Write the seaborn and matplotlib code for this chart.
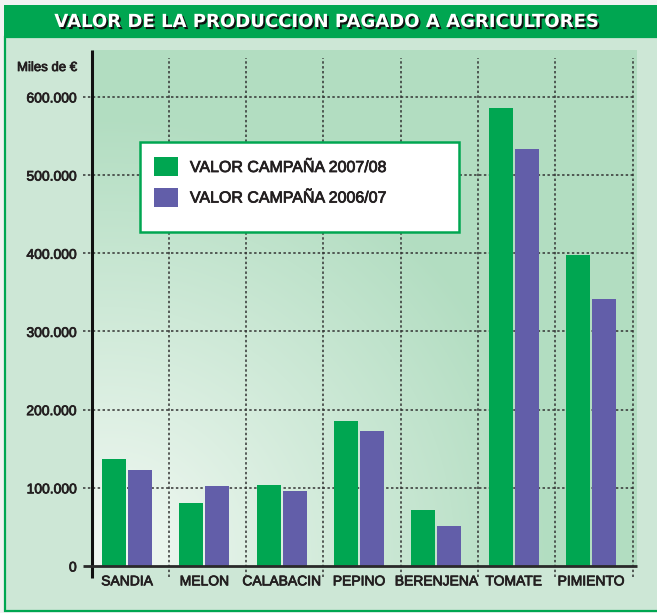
import numpy as np
import pandas as pd
import matplotlib
matplotlib.use("Agg")
import matplotlib.pyplot as plt
import matplotlib.patches as mpatches
import matplotlib.patheffects as pe
import seaborn as sns

# datos (miles de euros)
cultivos = ["SANDIA", "MELON", "CALABACIN", "PEPINO", "BERENJENA", "TOMATE", "PIMIENTO"]
campana_0708 = [137000, 81000, 104000, 186000, 71000, 586000, 398000]
campana_0607 = [123000, 102000, 96000, 173000, 51000, 533000, 342000]
series = ["VALOR CAMPAÑA 2007/08", "VALOR CAMPAÑA 2006/07"]
y_ticks = [0, 100000, 200000, 300000, 400000, 500000, 600000]
y_labels = ["0", "100.000", "200.000", "300.000", "400.000", "500.000", "600.000"]

VERDE = "#00a651"
MORADO = "#625ea9"
TEXTO = "#231f20"

plt.rcParams["font.family"] = ["Liberation Sans", "DejaVu Sans"]

# trazo fino para imitar la letra semi-negrita del original
medio = [pe.withStroke(linewidth=0.55, foreground=TEXTO)]

df = pd.DataFrame({
    "cultivo": cultivos * 2,
    "valor": campana_0708 + campana_0607,
    "serie": [series[0]] * len(cultivos) + [series[1]] * len(cultivos),
})

W, H = 657, 613
fig = plt.figure(figsize=(W / 100, H / 100), dpi=100)
fig.patch.set_facecolor("#f1f2f2")

# fondo: banda del titulo y panel verde claro
bg = fig.add_axes([0, 0, 1, 1])
bg.set_xlim(0, W)
bg.set_ylim(H, 0)
bg.axis("off")
bg.add_patch(mpatches.Rectangle((5, 37), 660, 574, facecolor="#cde7d6",
                                edgecolor=VERDE, linewidth=1.6))
bg.add_patch(mpatches.Rectangle((4, 5), 660, 33, facecolor=VERDE, edgecolor="none"))

fig.text(325 / W, 1 - 22 / H, "VALOR DE LA PRODUCCION PAGADO A AGRICULTORES",
         ha="center", va="center", color="white", fontsize=13, fontweight="bold",
         family="DejaVu Sans",
         path_effects=[pe.withSimplePatchShadow(offset=(1.3, -1.5),
                                                shadow_rgbFace="#111111", alpha=1.0)])
fig.text(17 / W, 1 - 68 / H, "Miles de €", ha="left", va="center",
         fontsize=9.5, color=TEXTO, path_effects=medio)

# area del grafico
x0, x1, y0, y1 = 92, 637, 50, 566
ax = fig.add_axes([x0 / W, 1 - y1 / H, (x1 - x0) / W, (y1 - y0) / H])

# degradado radial del fondo del grafico
gh, gw = y1 - y0, x1 - x0
yy, xx = np.mgrid[0:gh, 0:gw]
d = np.hypot(xx - 18, yy - 505) / 440.0
t = np.clip(d, 0, 1)[..., None]
c_in = np.array([0.95, 0.975, 0.955])
c_out = np.array([0xb2, 0xdd, 0xc1]) / 255.0
grad = c_in * (1 - t) + c_out * t
ax.imshow(grad, extent=(0, 1, 0, 1), transform=ax.transAxes, aspect="auto",
          zorder=0, interpolation="bilinear")

sns.barplot(data=df, x="cultivo", y="valor", hue="serie", hue_order=series,
            palette=[VERDE, MORADO], saturation=1, width=0.672, gap=0.08,
            linewidth=0, legend=False, ax=ax, zorder=3)

ax.set_xlim(-0.453, 6.595)
ax.set_ylim(0, 660000)
for s in ax.spines.values():
    s.set_visible(False)
ax.set_xlabel("")
ax.set_ylabel("")

ax.set_yticks(y_ticks)
ax.set_yticklabels(y_labels)
ax.tick_params(axis="y", length=0, pad=11, labelsize=10, labelcolor=TEXTO)
ax.tick_params(axis="x", length=0, pad=6, labelsize=10, labelcolor=TEXTO)
for lab in ax.get_xticklabels() + ax.get_yticklabels():
    lab.set_path_effects(medio)

# rejilla punteada
dots = (0, (1.6, 1.6))
ax.hlines(y_ticks[1:], -0.0165, 0.993, transform=ax.get_yaxis_transform(),
          colors="#333333", linestyles=dots, linewidth=1.1, clip_on=False, zorder=2)
ax.vlines([i + 0.54 for i in range(len(cultivos))], -0.021, 0.984,
          transform=ax.get_xaxis_transform(), colors="#333333", linestyles=dots,
          linewidth=1.1, clip_on=False, zorder=2)

# ejes
ax.plot([0, 0], [-0.023, 1.0], transform=ax.transAxes, color="#111111",
        linewidth=2.2, clip_on=False, zorder=5, solid_capstyle="butt")
ax.plot([-0.0165, 1.0], [0, 0], transform=ax.transAxes, color="#2a2a2a",
        linewidth=2.0, clip_on=False, zorder=5, solid_capstyle="butt")

# leyenda
ax.add_patch(mpatches.Rectangle((140 / W, 1 - 232 / H), 319 / W, 90 / H,
                                transform=fig.transFigure, facecolor="white",
                                edgecolor=VERDE, linewidth=1.8, zorder=6, clip_on=False))
handles = [mpatches.Patch(facecolor=c, edgecolor="none") for c in (VERDE, MORADO)]
leg = ax.legend(handles, series, loc="upper left",
                bbox_to_anchor=(154 / W, 1 - 157 / H), bbox_transform=fig.transFigure,
                frameon=False, borderpad=0, borderaxespad=0, handlelength=1.5,
                handleheight=1.5, handletextpad=0.75, labelspacing=0.69,
                fontsize=11.5)
leg.set_zorder(7)
for txt in leg.get_texts():
    txt.set_color(TEXTO)
    txt.set_path_effects(medio)

fig.savefig("out.png", dpi=100)
plt.close(fig)
